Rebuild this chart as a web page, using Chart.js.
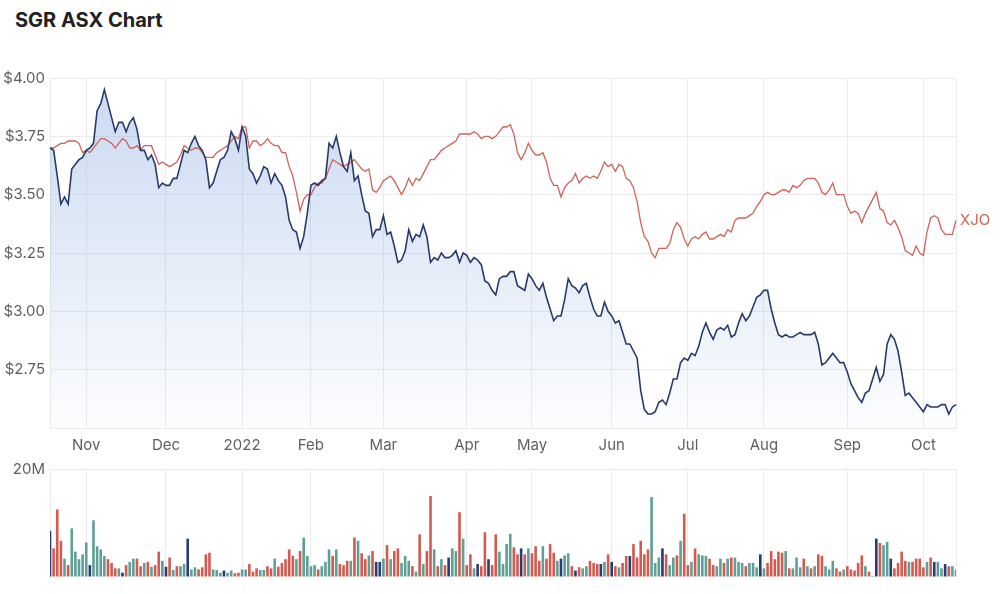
<!DOCTYPE html>
<html>
<head>
<meta charset="utf-8">
<script src="https://cdn.jsdelivr.net/npm/chart.js@4.4.0/dist/chart.umd.min.js"></script>
<style>
  body { margin: 0; background: #fff; width: 1000px; height: 594px; position: relative; overflow: hidden; }
  #title { position: absolute; left: 15px; top: 8px; font: bold 20px/24px Inter, sans-serif; color: #222; }
  #priceBox { position: absolute; left: 0; top: 60px; }
  #volBox { position: absolute; left: 0; top: 455px; }
</style>
</head>
<body>
<div id="title">SGR ASX Chart</div>
<div id="priceBox"><canvas id="priceChart" width="1000" height="398"></canvas></div>
<div id="volBox"><canvas id="volChart" width="1000" height="139"></canvas></div>
<script>
// trading days, ASX calendar
var startDate = '2021-10-18';
var endDate = '2022-10-14';
var holidays = ['2021-12-27', '2021-12-28', '2022-01-03', '2022-01-26', '2022-04-15',
                '2022-04-18', '2022-04-25', '2022-06-13', '2022-09-22'];
var monthNames = ['Jan','Feb','Mar','Apr','May','Jun','Jul','Aug','Sep','Oct','Nov','Dec'];

// SGR close ($)
var sgrPrice = [
  3.70,3.69,3.58,3.46,3.49,3.46,3.61,3.63,3.65,3.66,
  3.69,3.70,3.72,3.86,3.89,3.95,3.89,3.83,3.77,3.81,
  3.81,3.77,3.81,3.83,3.78,3.69,3.69,3.65,3.67,3.63,
  3.53,3.55,3.54,3.54,3.57,3.57,3.63,3.69,3.68,3.72,
  3.75,3.71,3.69,3.65,3.53,3.55,3.60,3.65,3.66,3.69,
  3.77,3.74,3.69,3.79,3.75,3.61,3.59,3.55,3.58,3.62,
  3.61,3.55,3.59,3.56,3.54,3.49,3.39,3.35,3.34,3.27,
  3.32,3.42,3.54,3.55,3.54,3.56,3.57,3.72,3.70,3.75,
  3.68,3.62,3.60,3.68,3.56,3.58,3.50,3.43,3.42,3.32,
  3.35,3.35,3.41,3.33,3.34,3.28,3.21,3.22,3.26,3.35,
  3.30,3.33,3.32,3.37,3.32,3.21,3.23,3.22,3.25,3.23,
  3.23,3.24,3.26,3.21,3.25,3.24,3.21,3.23,3.22,3.20,
  3.13,3.12,3.09,3.07,3.14,3.15,3.15,3.17,3.17,3.11,
  3.10,3.09,3.16,3.14,3.11,3.09,3.12,3.06,3.01,2.96,
  2.98,2.98,3.05,3.14,3.11,3.10,3.08,3.11,3.12,3.06,
  3.01,2.98,2.98,3.04,3.00,2.98,2.95,2.96,2.91,2.86,
  2.86,2.83,2.80,2.66,2.58,2.56,2.56,2.57,2.61,2.62,
  2.60,2.65,2.71,2.71,2.78,2.80,2.79,2.82,2.81,2.85,
  2.91,2.95,2.91,2.88,2.92,2.93,2.92,2.94,2.89,2.90,
  2.95,2.99,2.96,2.98,3.02,3.06,3.07,3.09,3.09,3.01,
  2.95,2.90,2.89,2.90,2.89,2.89,2.90,2.91,2.90,2.90,
  2.90,2.91,2.86,2.77,2.78,2.80,2.82,2.80,2.78,2.78,
  2.74,2.69,2.66,2.63,2.61,2.65,2.66,2.71,2.76,2.70,
  2.73,2.86,2.90,2.88,2.83,2.74,2.64,2.65,2.63,2.61,
  2.59,2.57,2.60,2.59,2.59,2.59,2.60,2.60,2.56,2.59,2.60
];

// XJO, rebased to the SGR price axis
var xjoRebased = [
  3.70,3.70,3.71,3.72,3.72,3.73,3.73,3.73,3.72,3.68,
  3.69,3.68,3.70,3.72,3.74,3.74,3.73,3.72,3.70,3.72,
  3.74,3.73,3.70,3.70,3.71,3.69,3.71,3.71,3.71,3.67,
  3.63,3.64,3.63,3.62,3.63,3.64,3.67,3.71,3.70,3.69,
  3.70,3.70,3.68,3.66,3.66,3.66,3.68,3.69,3.70,3.71,
  3.73,3.75,3.74,3.79,3.79,3.70,3.73,3.73,3.71,3.72,
  3.74,3.72,3.71,3.71,3.68,3.68,3.62,3.58,3.51,3.43,
  3.48,3.50,3.50,3.53,3.55,3.55,3.57,3.61,3.65,3.64,
  3.63,3.62,3.63,3.64,3.65,3.63,3.61,3.60,3.61,3.52,
  3.51,3.53,3.56,3.57,3.58,3.56,3.53,3.50,3.53,3.57,
  3.54,3.57,3.56,3.59,3.62,3.65,3.65,3.67,3.69,3.70,
  3.71,3.72,3.73,3.76,3.76,3.76,3.76,3.77,3.76,3.74,
  3.75,3.75,3.74,3.75,3.77,3.79,3.79,3.80,3.76,3.68,
  3.65,3.68,3.72,3.69,3.67,3.67,3.68,3.64,3.57,3.54,
  3.54,3.49,3.53,3.55,3.56,3.59,3.55,3.57,3.58,3.57,
  3.58,3.57,3.60,3.64,3.62,3.63,3.60,3.63,3.62,3.57,
  3.56,3.53,3.47,3.38,3.32,3.30,3.25,3.23,3.27,3.27,
  3.27,3.29,3.35,3.38,3.36,3.31,3.28,3.31,3.32,3.31,
  3.33,3.34,3.31,3.31,3.32,3.33,3.32,3.35,3.34,3.39,
  3.40,3.40,3.40,3.41,3.42,3.45,3.47,3.50,3.51,3.50,
  3.50,3.51,3.52,3.52,3.51,3.54,3.53,3.54,3.56,3.57,
  3.57,3.57,3.55,3.51,3.50,3.52,3.55,3.50,3.50,3.50,
  3.45,3.42,3.43,3.42,3.38,3.42,3.45,3.48,3.51,3.44,
  3.43,3.38,3.37,3.39,3.36,3.32,3.26,3.25,3.24,3.28,
  3.25,3.24,3.34,3.40,3.41,3.40,3.35,3.33,3.33,3.33,3.39
];

// volume (millions of shares)
var volumeM = [
  8.5,5.3,12.5,6.7,3.4,2.2,9.0,4.7,3.3,4.2,
  6.4,2.2,10.5,5.7,5.1,3.9,3.3,2.6,1.6,1.6,
  0.8,2.2,2.8,3.4,3.4,2.0,2.6,2.8,1.9,2.2,
  4.7,3.0,1.9,3.6,1.3,2.0,2.0,2.4,7.1,1.4,
  1.8,1.4,1.8,4.2,4.5,1.4,1.3,0.8,1.2,0.8,
  1.2,0.7,0.8,1.4,1.4,2.4,1.0,1.6,1.3,1.3,
  2.0,1.6,3.4,1.9,2.6,3.3,5.1,3.9,3.3,4.8,
  7.3,3.9,2.0,2.2,1.4,2.0,2.8,5.1,3.9,5.1,
  2.4,2.2,3.0,3.0,7.3,6.7,4.4,3.3,4.0,4.8,
  2.8,2.8,3.4,5.9,3.3,4.8,5.3,2.6,3.9,3.0,
  2.0,1.0,7.9,2.4,4.8,15.0,5.1,2.0,3.3,2.2,
  3.6,5.3,4.8,12.0,7.1,2.2,4.2,1.6,2.4,2.0,
  8.3,3.3,2.2,7.9,4.7,2.4,6.1,8.0,5.5,4.2,
  5.3,4.2,5.3,4.4,5.7,3.0,5.7,3.4,6.1,4.5,
  3.0,3.4,4.0,4.4,2.0,1.2,1.8,1.6,2.0,3.0,
  2.6,2.4,2.4,2.8,4.2,2.8,2.0,1.8,2.6,3.9,
  3.9,6.1,3.6,6.7,4.2,5.1,14.8,2.6,3.6,5.3,
  4.2,2.2,3.6,4.0,6.7,11.7,2.2,2.8,5.3,4.2,
  4.0,3.9,3.4,2.2,2.0,3.4,2.6,3.4,3.6,3.6,
  2.8,2.6,2.0,2.6,2.6,1.8,4.2,1.6,2.6,4.8,
  3.3,4.7,4.5,4.8,1.6,1.6,3.6,1.8,3.4,2.0,
  1.6,2.0,4.2,3.9,2.0,1.4,3.0,1.6,1.0,1.4,
  2.0,1.4,1.2,2.6,4.0,2.0,1.0,0.2,7.1,6.3,
  5.9,6.5,3.4,1.6,2.6,4.7,3.0,2.8,2.8,3.4,
  3.4,1.8,2.8,3.6,2.8,2.8,1.6,2.4,2.0,2.0,1.4
];

// bar colour per day: u = up, d = down, n = unchanged
var volumeDir = [
  'nddduduuuu', 'unuuuudddu', 'nduuddudud', 'dunduduunu', 'udddduuunu',
  'udduuddduu', 'ddudddddud', 'uuuuduuudu', 'dddududdud', 'nnududduuu',
  'dududdudud', 'nuududdund', 'dndduuuudd', 'nduddduddd', 'unuudnduud',
  'ddnudndudd', 'nddddduuun', 'duududdudu', 'uudduududu', 'uuduuunudd',
  'ddduduuudu', 'dudduuuddu', 'dddddudund', 'uunddddudd', 'ddudnuunduu'
].join('').split('');

var upColor = '#5e9f96';
var downColor = '#d45a50';
var flatColor = '#283b72';
var gridColor = '#ebebeb';

var dates = [];
for (var d = new Date(startDate + 'T00:00:00Z'); d <= new Date(endDate + 'T00:00:00Z'); d.setUTCDate(d.getUTCDate() + 1)) {
  var iso = d.toISOString().slice(0, 10);
  var wd = d.getUTCDay();
  if (wd > 0 && wd < 6 && holidays.indexOf(iso) < 0) dates.push(iso);
}

function isMonthStart(i) {
  return i > 0 && dates[i].slice(5, 7) !== dates[i - 1].slice(5, 7);
}
function monthLabel(iso) {
  var m = +iso.slice(5, 7) - 1;
  return m === 0 ? iso.slice(0, 4) : monthNames[m];
}
function keepMonthTicks(axis) {
  axis.ticks = axis.ticks.filter(function(t) { return isMonthStart(t.value); });
}

Chart.defaults.font.family = 'Inter, sans-serif';
Chart.defaults.font.size = 15;
Chart.defaults.color = '#5f5f5f';

var frame = {
  id: 'frame',
  beforeDatasetsDraw: function(chart) {
    var a = chart.chartArea, c = chart.ctx;
    c.save();
    c.strokeStyle = gridColor;
    c.lineWidth = 1;
    c.beginPath();
    c.moveTo(a.right + 0.5, a.top);
    c.lineTo(a.right + 0.5, a.bottom);
    c.stroke();
    c.restore();
  }
};

var xjoTag = {
  id: 'xjoTag',
  afterDatasetsDraw: function(chart) {
    var pts = chart.getDatasetMeta(1).data;
    var p = pts[pts.length - 1];
    var c = chart.ctx;
    c.save();
    c.font = '15px Inter, sans-serif';
    c.fillStyle = '#d0625a';
    c.textBaseline = 'middle';
    c.fillText('XJO', p.x + 4, p.y);
    c.restore();
  }
};

var priceChart = new Chart(document.getElementById('priceChart'), {
  type: 'line',
  data: {
    labels: dates,
    datasets: [{
      label: 'SGR',
      data: sgrPrice,
      borderColor: '#283a6b',
      borderWidth: 1.6,
      pointRadius: 0,
      tension: 0,
      fill: 'start',
      backgroundColor: function(ctx) {
        var a = ctx.chart.chartArea;
        if (!a) return 'rgba(120,160,220,0.3)';
        var g = ctx.chart.ctx.createLinearGradient(0, a.top, 0, a.bottom);
        g.addColorStop(0, 'rgba(120,160,220,0.40)');
        g.addColorStop(1, 'rgba(120,160,220,0.02)');
        return g;
      }
    }, {
      label: 'XJO',
      data: xjoRebased,
      borderColor: '#d0625a',
      borderWidth: 1.3,
      pointRadius: 0,
      tension: 0,
      fill: false
    }]
  },
  options: {
    responsive: false,
    animation: false,
    events: [],
    layout: { padding: { top: 18, right: 44, left: 0, bottom: 0 } },
    plugins: {
      legend: { display: false },
      tooltip: { enabled: false },
      filler: { drawTime: 'beforeDatasetsDraw' }
    },
    scales: {
      x: {
        type: 'category',
        offset: false,
        afterBuildTicks: keepMonthTicks,
        afterFit: function(s) { s.height = 30; },
        grid: { color: gridColor, drawTicks: false },
        border: { color: gridColor },
        ticks: {
          autoSkip: false,
          maxRotation: 0,
          padding: 8,
          callback: function(v) { return monthLabel(dates[v]); }
        }
      },
      y: {
        min: 2.5,
        max: 4.0,
        afterFit: function(s) { s.width = 50; },
        grid: { color: gridColor, drawTicks: false },
        border: { color: gridColor },
        ticks: {
          stepSize: 0.25,
          padding: 5,
          callback: function(v) { return v <= 2.5 ? '' : '$' + v.toFixed(2); }
        }
      }
    }
  },
  plugins: [frame, xjoTag]
});

var volChart = new Chart(document.getElementById('volChart'), {
  type: 'bar',
  data: {
    labels: dates,
    datasets: [{
      data: volumeM.map(function(v) { return v * 1e6; }),
      backgroundColor: volumeDir.map(function(k) {
        return k === 'u' ? upColor : (k === 'd' ? downColor : flatColor);
      }),
      barPercentage: 0.72,
      categoryPercentage: 1
    }]
  },
  options: {
    responsive: false,
    animation: false,
    events: [],
    layout: { padding: { top: 12, right: 44, left: 0, bottom: 17 } },
    plugins: { legend: { display: false }, tooltip: { enabled: false } },
    scales: {
      x: {
        type: 'category',
        offset: false,
        afterBuildTicks: keepMonthTicks,
        grid: { color: gridColor, drawTicks: false, offset: false },
        border: { display: false },
        ticks: { display: false, autoSkip: false }
      },
      y: {
        min: 0,
        max: 20e6,
        afterFit: function(s) { s.width = 50; },
        grid: {
          drawTicks: false,
          color: function(ctx) { return ctx.tick && ctx.tick.value === 0 ? 'rgba(0,0,0,0)' : gridColor; }
        },
        border: { color: gridColor },
        ticks: {
          stepSize: 20e6,
          padding: 5,
          callback: function(v) { return v === 20e6 ? '20M' : ''; }
        }
      }
    }
  },
  plugins: [frame]
});
</script>
</body>
</html>
